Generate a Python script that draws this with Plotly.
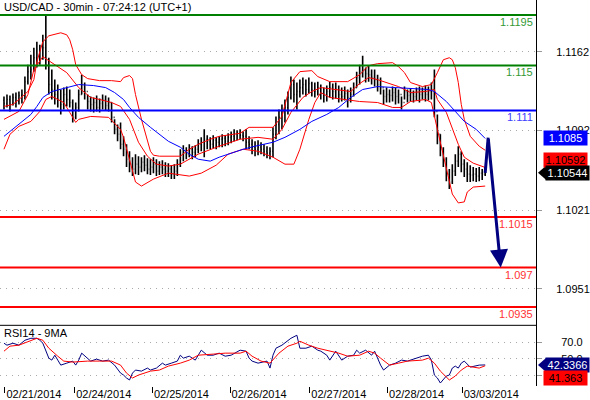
import plotly.graph_objects as go

# ---------------- data ----------------
bar_high = [
    1.11224, 1.11241, 1.11232, 1.11250, 1.11259, 1.11268, 1.11286, 1.11401, 1.11507, 1.11596,
    1.11658, 1.11711, 1.11684, 1.11773, 1.11941, 1.11569, 1.11463, 1.11374, 1.11330, 1.11286,
    1.11303, 1.11312, 1.11286, 1.11197, 1.11170, 1.11286, 1.11418, 1.11348, 1.11241, 1.11224,
    1.11215, 1.11232, 1.11206, 1.11241, 1.11232, 1.11215, 1.11170, 1.11020, 1.10975, 1.10993,
    1.10869, 1.10798, 1.10736, 1.10683, 1.10710, 1.10692, 1.10683, 1.10701, 1.10674, 1.10665,
    1.10683, 1.10665, 1.10648, 1.10657, 1.10639, 1.10630, 1.10612, 1.10621, 1.10665, 1.10754,
    1.10789, 1.10772, 1.10798, 1.10781, 1.10789, 1.10843, 1.10860, 1.10931, 1.10878, 1.10860,
    1.10878, 1.10860, 1.10869, 1.10887, 1.10878, 1.10896, 1.10913, 1.10931, 1.10922, 1.10931,
    1.10913, 1.10931, 1.10869, 1.10843, 1.10825, 1.10834, 1.10816, 1.10798, 1.10781, 1.10772,
    1.10949, 1.11046, 1.11108, 1.11153, 1.11197, 1.11268, 1.11401, 1.11374, 1.11348, 1.11374,
    1.11392, 1.11374, 1.11392, 1.11356, 1.11348, 1.11356, 1.11330, 1.11303, 1.11321, 1.11356,
    1.11339, 1.11348, 1.11321, 1.11303, 1.11312, 1.11286, 1.11303, 1.11348, 1.11445, 1.11507,
    1.11587, 1.11481, 1.11498, 1.11463, 1.11463, 1.11418, 1.11392, 1.11286, 1.11303, 1.11286,
    1.11312, 1.11303, 1.11286, 1.11224, 1.11312, 1.11286, 1.11294, 1.11277, 1.11303, 1.11312,
    1.11303, 1.11321, 1.11312, 1.11348, 1.11463, 1.11064, 1.10887, 1.10772, 1.10683, 1.10577,
    1.10621, 1.10710, 1.10781, 1.10736, 1.10665, 1.10639, 1.10612, 1.10595, 1.10586, 1.10595,
    1.10577, 1.10595,
]
bar_low = [
    1.11108, 1.11126, 1.11091, 1.11144, 1.11126, 1.11153, 1.11162, 1.11197, 1.11330, 1.11374,
    1.11445, 1.11481, 1.11507, 1.11551, 1.11463, 1.11241, 1.11197, 1.11153, 1.11126, 1.11064,
    1.11108, 1.11135, 1.11126, 1.10993, 1.11020, 1.11091, 1.11241, 1.11197, 1.11108, 1.11091,
    1.11082, 1.11091, 1.11082, 1.11108, 1.11100, 1.11091, 1.10993, 1.10887, 1.10825, 1.10754,
    1.10692, 1.10595, 1.10550, 1.10515, 1.10532, 1.10524, 1.10550, 1.10559, 1.10532, 1.10524,
    1.10541, 1.10515, 1.10524, 1.10532, 1.10506, 1.10506, 1.10488, 1.10488, 1.10515, 1.10595,
    1.10648, 1.10665, 1.10683, 1.10665, 1.10683, 1.10719, 1.10736, 1.10683, 1.10754, 1.10754,
    1.10763, 1.10754, 1.10772, 1.10772, 1.10781, 1.10789, 1.10807, 1.10825, 1.10834, 1.10843,
    1.10825, 1.10754, 1.10754, 1.10710, 1.10692, 1.10701, 1.10710, 1.10692, 1.10674, 1.10665,
    1.10683, 1.10843, 1.10887, 1.10931, 1.10993, 1.11064, 1.11197, 1.11170, 1.11108, 1.11215,
    1.11241, 1.11224, 1.11250, 1.11224, 1.11215, 1.11232, 1.11197, 1.11170, 1.11179, 1.11215,
    1.11197, 1.11206, 1.11170, 1.11179, 1.11188, 1.11126, 1.11170, 1.11224, 1.11303, 1.11330,
    1.11392, 1.11348, 1.11356, 1.11330, 1.11312, 1.11268, 1.11241, 1.11153, 1.11170, 1.11170,
    1.11179, 1.11153, 1.11162, 1.11108, 1.11197, 1.11170, 1.11179, 1.11170, 1.11188, 1.11170,
    1.11197, 1.11179, 1.11188, 1.11197, 1.11038, 1.10798, 1.10692, 1.10595, 1.10470, 1.10400,
    1.10444, 1.10515, 1.10595, 1.10550, 1.10506, 1.10462, 1.10462, 1.10470, 1.10462, 1.10470,
    1.10479, 1.10515,
]
bar_close = [
    1.11162, 1.11197, 1.11153, 1.11215, 1.11179, 1.11232, 1.11241, 1.11356, 1.11445, 1.11463,
    1.11569, 1.11551, 1.11640, 1.11658, 1.11507, 1.11330, 1.11286, 1.11241, 1.11197, 1.11153,
    1.11241, 1.11197, 1.11170, 1.11038, 1.11126, 1.11241, 1.11330, 1.11268, 1.11179, 1.11153,
    1.11170, 1.11126, 1.11162, 1.11197, 1.11144, 1.11170, 1.11038, 1.10931, 1.10887, 1.10798,
    1.10754, 1.10665, 1.10621, 1.10577, 1.10621, 1.10595, 1.10639, 1.10612, 1.10577, 1.10595,
    1.10621, 1.10559, 1.10595, 1.10577, 1.10559, 1.10577, 1.10532, 1.10559, 1.10621, 1.10710,
    1.10736, 1.10710, 1.10754, 1.10727, 1.10754, 1.10798, 1.10816, 1.10843, 1.10825, 1.10798,
    1.10834, 1.10816, 1.10843, 1.10851, 1.10825, 1.10860, 1.10869, 1.10887, 1.10896, 1.10878,
    1.10869, 1.10816, 1.10798, 1.10772, 1.10754, 1.10772, 1.10754, 1.10736, 1.10719, 1.10736,
    1.10887, 1.10975, 1.11038, 1.11091, 1.11126, 1.11215, 1.11330, 1.11241, 1.11268, 1.11303,
    1.11330, 1.11286, 1.11339, 1.11286, 1.11268, 1.11303, 1.11250, 1.11232, 1.11268, 1.11303,
    1.11268, 1.11286, 1.11241, 1.11224, 1.11250, 1.11215, 1.11241, 1.11303, 1.11392, 1.11445,
    1.11463, 1.11427, 1.11418, 1.11392, 1.11374, 1.11330, 1.11303, 1.11224, 1.11241, 1.11232,
    1.11259, 1.11224, 1.11241, 1.11170, 1.11268, 1.11232, 1.11250, 1.11224, 1.11259, 1.11241,
    1.11268, 1.11241, 1.11268, 1.11286, 1.11091, 1.10887, 1.10754, 1.10665, 1.10532, 1.10462,
    1.10559, 1.10648, 1.10710, 1.10621, 1.10577, 1.10532, 1.10524, 1.10532, 1.10515, 1.10541,
    1.10532, 1.10544,
]
first_open = 1.11190

# Bollinger bands (red) and moving average (blue), read at bar positions
bb_upper_idx = [0, 3, 5, 8, 10, 11, 13, 15, 19, 21, 22, 23, 24, 26, 28, 32, 36, 39, 40, 42,
                43, 44, 46, 48, 49, 50, 52, 59, 62, 65, 69, 72, 79, 82, 90, 93, 95, 96, 99, 103,
                105, 109, 115, 119, 122, 125, 130, 132, 134, 136, 140, 143, 145, 147, 149, 150, 151, 152, 153, 154,
                156, 159, 161]
bb_upper = [1.11135, 1.11153, 1.11197, 1.11268, 1.11374, 1.11534, 1.11711, 1.11764, 1.11791, 1.11773,
            1.11729, 1.11640, 1.11507, 1.11418, 1.11383, 1.11365, 1.11365, 1.11356, 1.11392, 1.11410,
            1.11383, 1.11241, 1.11020, 1.10843, 1.10736, 1.10701, 1.10692, 1.10692, 1.10754, 1.10798,
            1.10843, 1.10869, 1.10896, 1.10949, 1.10949, 1.11046, 1.11241, 1.11348, 1.11445, 1.11454,
            1.11401, 1.11356, 1.11356, 1.11418, 1.11498, 1.11516, 1.11525, 1.11489, 1.11436, 1.11348,
            1.11312, 1.11330, 1.11436, 1.11551, 1.11569, 1.11551, 1.11481, 1.11348, 1.11153, 1.11020,
            1.10869, 1.10781, 1.10745]

bb_mid_idx = [0, 5, 8, 10, 13, 16, 21, 25, 29, 32, 36, 39, 42, 45, 48, 51, 55, 59, 62, 65,
              72, 79, 85, 90, 93, 96, 100, 103, 106, 112, 116, 119, 122, 125, 132, 136, 141, 144, 145, 148,
              150, 152, 154, 157, 161]
bb_mid = [1.11020, 1.11091, 1.11241, 1.11463, 1.11578, 1.11525, 1.11436, 1.11303, 1.11215, 1.11197,
          1.11170, 1.11135, 1.11020, 1.10816, 1.10692, 1.10621, 1.10604, 1.10621, 1.10665, 1.10710,
          1.10781, 1.10843, 1.10860, 1.10843, 1.10931, 1.11082, 1.11215, 1.11268, 1.11303, 1.11286,
          1.11268, 1.11339, 1.11392, 1.11374, 1.11312, 1.11259, 1.11268, 1.11286, 1.11197, 1.11082,
          1.10931, 1.10798, 1.10683, 1.10630, 1.10592]

bb_lower_idx = [0, 2, 5, 9, 12, 14, 16, 20, 22, 24, 25, 29, 35, 39, 40, 42, 44, 46, 50, 55,
                59, 62, 66, 71, 75, 80, 85, 90, 94, 97, 99, 102, 104, 106, 109, 114, 119, 125, 130, 133,
                136, 141, 143, 145, 148, 150, 152, 154, 155, 157, 161]
bb_lower = [1.10754, 1.10887, 1.10958, 1.11002, 1.11091, 1.11197, 1.11224, 1.11170, 1.11082, 1.10993,
            1.11020, 1.11046, 1.11038, 1.10931, 1.10860, 1.10665, 1.10462, 1.10426, 1.10488, 1.10541,
            1.10524, 1.10515, 1.10541, 1.10612, 1.10710, 1.10754, 1.10736, 1.10683, 1.10621, 1.10621,
            1.10754, 1.11020, 1.11170, 1.11259, 1.11215, 1.11197, 1.11179, 1.11170, 1.11126, 1.11126,
            1.11179, 1.11197, 1.11170, 1.10931, 1.10577, 1.10355, 1.10276, 1.10285, 1.10373, 1.10417,
            1.10426]

ma_idx = [0, 5, 9, 11, 13, 16, 21, 25, 30, 34, 37, 40, 42, 45, 49, 52, 55, 59, 62, 65,
          69, 72, 75, 80, 84, 90, 94, 99, 103, 108, 112, 116, 120, 125, 131, 139, 142, 144, 148, 151,
          154, 158, 161]
ma_blue = [1.10869, 1.10975, 1.11064, 1.11135, 1.11215, 1.11268, 1.11303, 1.11330, 1.11321, 1.11303,
           1.11259, 1.11197, 1.11126, 1.11038, 1.10949, 1.10887, 1.10825, 1.10772, 1.10710, 1.10665,
           1.10648, 1.10683, 1.10710, 1.10754, 1.10781, 1.10816, 1.10860, 1.10931, 1.11002, 1.11064,
           1.11126, 1.11215, 1.11286, 1.11312, 1.11303, 1.11294, 1.11286, 1.11268, 1.11179, 1.11091,
           1.11002, 1.10931, 1.10850]

# projection arrow
proj_idx = [161, 162, 166.2]
proj_price = [1.10544, 1.10858, 1.0970]

# RSI(14) and its 9-period MA
rsi_idx = [0, 1, 3, 5, 7, 9, 11, 12, 13, 14, 15, 16, 17, 18, 19, 21, 23, 24, 25, 26,
           28, 29, 31, 33, 35, 37, 39, 40, 41, 42, 43, 44, 46, 48, 49, 51, 53, 54, 56, 58,
           59, 60, 62, 64, 65, 66, 68, 70, 72, 74, 76, 79, 81, 82, 83, 85, 88, 89, 90, 91,
           93, 95, 96, 98, 99, 101, 103, 105, 106, 108, 109, 111, 113, 115, 117, 118, 119, 121, 123, 124,
           126, 127, 129, 131, 133, 135, 138, 140, 142, 143, 144, 145, 146, 148, 149, 150, 151, 152, 153, 154,
           156, 158, 159, 161]
rsi_vals = [68.8, 66.4, 68.8, 66.4, 72.4, 74.8, 74.8, 72.4, 68.8, 60.3, 50.6, 48.2, 54.2, 48.2, 42.1, 44.5, 47.0, 42.1, 48.2, 56.7,
            50.6, 47.0, 49.4, 47.0, 48.2, 42.1, 32.4, 30.0, 26.4, 24.0, 32.4, 36.1, 34.8, 38.5, 36.1, 38.5, 44.5, 42.1, 44.5, 47.0,
            54.2, 50.6, 53.0, 48.2, 54.2, 60.3, 54.2, 54.2, 56.7, 53.0, 54.2, 60.3, 59.1, 50.6, 47.0, 44.5, 47.0, 38.5, 54.2, 62.7,
            66.4, 72.4, 74.8, 78.5, 62.7, 62.7, 65.2, 60.3, 59.1, 54.2, 48.2, 59.1, 48.2, 53.0, 54.2, 60.3, 56.7, 60.3, 54.2, 59.1,
            42.1, 36.1, 42.1, 44.5, 48.2, 47.0, 50.6, 53.0, 54.2, 48.2, 30.0, 26.4, 20.3, 28.8, 30.0, 38.5, 40.9, 38.5, 44.5, 47.0,
            39.7, 40.9, 42.1, 42.3366]

rsi_ma_idx = [0, 2, 5, 9, 11, 13, 15, 18, 20, 23, 28, 32, 36, 39, 41, 43, 45, 49, 52, 55,
              59, 62, 65, 70, 74, 79, 81, 83, 86, 89, 92, 95, 98, 99, 102, 105, 109, 112, 115, 119,
              122, 124, 126, 129, 132, 135, 140, 142, 144, 146, 149, 151, 153, 155, 159, 161]
rsi_ma_vals = [59.1, 65.2, 66.4, 72.4, 74.8, 72.4, 62.7, 53.0, 47.0, 45.8, 47.0, 47.0, 47.0, 42.1, 32.4, 26.4, 30.0, 34.8, 36.1, 40.9,
               44.5, 48.2, 54.2, 55.5, 56.7, 56.7, 59.1, 53.0, 47.0, 44.5, 56.7, 65.2, 68.8, 71.2, 66.4, 62.7, 59.1, 56.7, 53.0, 54.2,
               59.1, 56.7, 50.6, 42.1, 44.5, 47.0, 48.2, 50.6, 44.5, 34.8, 24.0, 28.8, 36.1, 40.9, 38.5, 41.363]

# axis ticks
day_tick_idx = [0.33, 23.67, 49.67, 75.67, 102.33, 128.33, 153.33]
day_labels = ["02/21/2014", "02/24/2014", "02/25/2014", "02/26/2014",
              "02/27/2014", "02/28/2014", "03/03/2014"]
price_ticks = [1.0951, 1.1021, 1.1092, 1.1162]
price_tick_labels = ["1.0951", "1.1021", "1.1092", "1.1162"]
rsi_ticks = [30, 50, 70]
rsi_tick_labels = ["30.0", "50.0", "70.0"]

# horizontal support/resistance levels
level_values = [1.1195, 1.115, 1.111, 1.1015, 1.097, 1.0935]
level_labels = ["1.1195", "1.115", "1.111", "1.1015", "1.097", "1.0935"]
level_colors = ["#008000", "#008000", "#0000ff", "#ff0000", "#ff0000", "#ff0000"]
level_text_colors = ["#339933", "#339933", "#4040ff", "#ff3333", "#ff3333", "#ff3333"]

last_ma = 1.1085
last_mid = 1.10592
last_close = 1.10544
last_rsi = 42.3366
last_rsi_ma = 41.363

# ---------------- figure ----------------
FONT = "Liberation Sans, Arial, sans-serif"
bar_index = list(range(len(bar_close)))
bar_open = [first_open] + bar_close[:-1]

fig = go.Figure()

for xs, ys, col in [(bb_upper_idx, bb_upper, "#ff0000"),
                    (bb_mid_idx, bb_mid, "#ff0000"),
                    (bb_lower_idx, bb_lower, "#ff0000"),
                    (ma_idx, ma_blue, "#0000ff")]:
    fig.add_trace(go.Scatter(x=xs, y=ys, mode="lines", line=dict(color=col, width=1),
                             xaxis="x", yaxis="y", hoverinfo="skip", showlegend=False))

fig.add_trace(go.Ohlc(x=bar_index, open=bar_open, high=bar_high, low=bar_low, close=bar_close,
                      increasing=dict(line=dict(color="black", width=1.6)),
                      decreasing=dict(line=dict(color="black", width=1.6)),
                      tickwidth=0.3, xaxis="x", yaxis="y", showlegend=False))

fig.add_trace(go.Scatter(x=proj_idx[:2], y=proj_price[:2], mode="lines",
                         line=dict(color="#000080", width=3), xaxis="x", yaxis="y",
                         hoverinfo="skip", showlegend=False))

fig.add_trace(go.Scatter(x=rsi_idx, y=rsi_vals, mode="lines", line=dict(color="#000080", width=1),
                         xaxis="x2", yaxis="y2", hoverinfo="skip", showlegend=False))
fig.add_trace(go.Scatter(x=rsi_ma_idx, y=rsi_ma_vals, mode="lines", line=dict(color="#ff0000", width=1),
                         xaxis="x2", yaxis="y2", hoverinfo="skip", showlegend=False))

shapes = []
annotations = []
for v, lab, c, tc in zip(level_values, level_labels, level_colors, level_text_colors):
    shapes.append(dict(type="line", xref="paper", yref="y", x0=0, x1=1, y0=v, y1=v,
                       line=dict(color=c, width=2), layer="above"))
    annotations.append(dict(xref="paper", yref="y", x=1, y=v, xanchor="right", yanchor="top",
                            xshift=-1, yshift=1, text=lab, showarrow=False,
                            font=dict(family=FONT, size=11, color=tc)))

# separator between the panels
shapes.append(dict(type="line", xref="paper", yref="paper", x0=0, x1=1,
                   y0=61 / 388, y1=61 / 388, line=dict(color="black", width=1)))

# projection arrow head
annotations.append(dict(x=proj_idx[2], y=proj_price[2], ax=proj_idx[1], ay=proj_price[1],
                        xref="x", yref="y", axref="x", ayref="y", text="", showarrow=True,
                        arrowhead=2, arrowsize=1.2, arrowwidth=3, arrowcolor="#000080"))

# titles
annotations.append(dict(xref="paper", yref="paper", x=0, y=1, xanchor="left", yanchor="top",
                        xshift=2, yshift=1, text="USD/CAD - 30min - 07:24:12 (UTC+1)", showarrow=False,
                        font=dict(family=FONT, size=11, color="black")))
annotations.append(dict(xref="paper", yref="paper", x=0, y=61 / 388, xanchor="left", yanchor="top",
                        xshift=2, yshift=0, text="RSI14 - 9MA", showarrow=False,
                        font=dict(family=FONT, size=11, color="black")))

# value boxes on the right
def box(val, yref, text, bg, fg, yshift=0, xshift=7, pointer=False):
    annotations.append(dict(xref="paper", yref=yref, x=1, y=val, xanchor="left", yanchor="middle",
                            xshift=xshift, yshift=yshift, text=text, showarrow=False,
                            bgcolor=bg, width=41, height=12, borderpad=1, align="center",
                            font=dict(family=FONT, size=11, color=fg)))
    if pointer:
        shapes.append(dict(type="path", xref="paper", yref=yref, xsizemode="pixel",
                           ysizemode="pixel", xanchor=1, yanchor=val,
                           path="M 2,%d L 10,%d L 10,%d Z" % (yshift, yshift + 7, yshift - 7),
                           fillcolor=bg, line=dict(width=0)))

box(last_ma, "y", "1.1085", "#0000ff", "white")
box(last_mid, "y", "1.10592", "#ff0000", "black", yshift=7)
box(last_close, "y", "1.10544", "black", "white", xshift=9, pointer=True)
box(last_rsi, "y2", "42.3366", "#000080", "white", xshift=9, pointer=True)
box(last_rsi_ma, "y2", "41.363", "#ff0000", "black", yshift=-12)

main_bottom = 61 / 388
fig.update_layout(
    width=590, height=400,
    margin=dict(l=0, r=52, t=0, b=12, pad=0),
    paper_bgcolor="white", plot_bgcolor="white",
    font=dict(family=FONT, size=11, color="black"),
    showlegend=False,
    xaxis=dict(domain=[0, 1], anchor="y", range=[-1.333, 178], showgrid=False, zeroline=False,
               showticklabels=False, ticks="", rangeslider=dict(visible=False), fixedrange=True),
    yaxis=dict(domain=[main_bottom, 1], anchor="x", side="right", range=[1.09186, 1.12083],
               tickvals=price_ticks, ticktext=price_tick_labels, showgrid=True,
               gridcolor="#aaaaaa", griddash="1px,5px", gridwidth=1, zeroline=False,
               ticks="outside", ticklen=5, tickcolor="#999999", showline=True, linecolor="black",
               linewidth=1, ticklabelstandoff=12, tickfont=dict(family=FONT, size=11, color="black")),
    xaxis2=dict(domain=[0, 1], anchor="y2", matches="x", range=[-1.333, 178], showgrid=False,
                zeroline=False, tickvals=day_tick_idx, ticktext=day_labels, ticks="outside",
                ticklen=6, tickcolor="black", ticklabelshift=29, ticklabelstandoff=-8,
                tickfont=dict(family=FONT, size=11, color="black"), rangeslider=dict(visible=False)),
    yaxis2=dict(domain=[0, main_bottom], anchor="x2", side="right", range=[16.67, 90.6],
                tickvals=rsi_ticks, ticktext=rsi_tick_labels, showgrid=True, gridcolor="#aaaaaa",
                griddash="1px,5px", zeroline=False, ticks="outside", ticklen=5, tickcolor="#999999",
                showline=True, linecolor="black", linewidth=1, ticklabelstandoff=17,
                tickfont=dict(family=FONT, size=11, color="black")),
    shapes=shapes,
    annotations=annotations,
)

fig.write_html("out.html", config={"displayModeBar": False},
               post_script="document.body.style.margin='0';document.body.style.padding='0';")
